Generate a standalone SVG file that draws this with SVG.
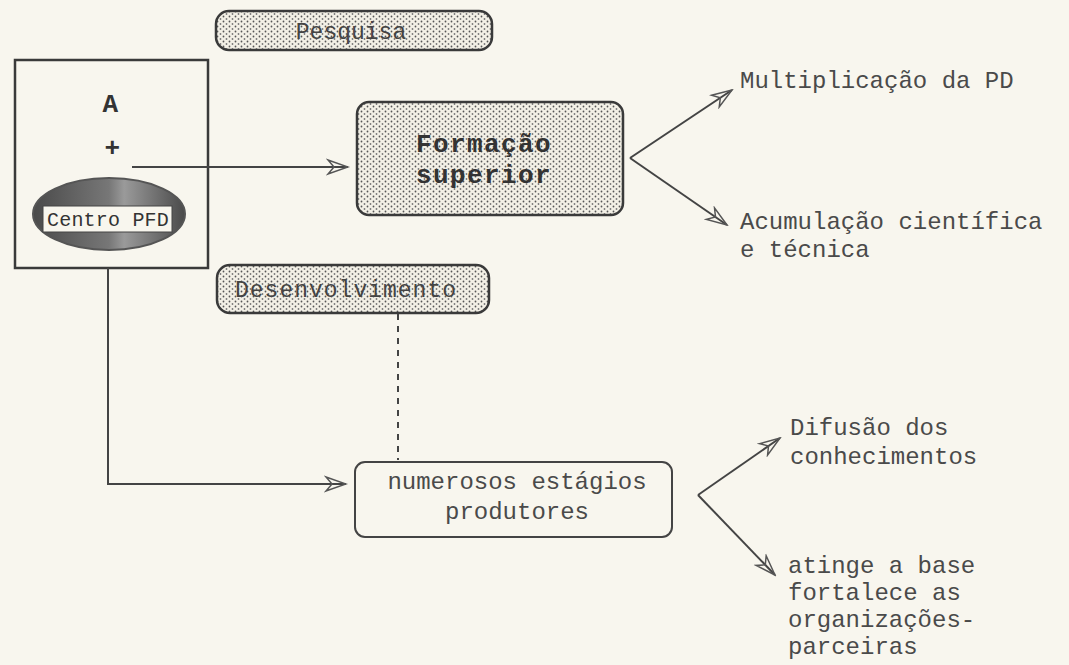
<svg xmlns="http://www.w3.org/2000/svg" width="1069" height="665" viewBox="0 0 1069 665">
<defs>
<pattern id="dots" width="6" height="5" patternUnits="userSpaceOnUse">
<rect width="6" height="5" fill="#f3f0e6"/>
<circle cx="1.5" cy="1.5" r="0.9" fill="#555"/>
<circle cx="4.5" cy="4" r="0.9" fill="#777"/>
</pattern>
<linearGradient id="ell" x1="0" y1="0" x2="1" y2="0">
<stop offset="0" stop-color="#4a4a4a"/>
<stop offset="0.5" stop-color="#777"/>
<stop offset="0.6" stop-color="#9a9a9a"/>
<stop offset="1" stop-color="#4a4a4a"/>
</linearGradient>
<marker id="arr" markerWidth="24" markerHeight="18" refX="22" refY="9" orient="auto" markerUnits="userSpaceOnUse">
<path d="M2,2 L22,9 L2,16 L8,9 Z" fill="none" stroke="#555" stroke-width="1.5"/>
</marker>
<style>
.t{font-family:"Liberation Mono",monospace;font-size:24px;fill:#4a4a4a}
.b{font-family:"Liberation Mono",monospace;font-size:26px;fill:#333;font-weight:bold;letter-spacing:1.4px}
.n{font-family:"Liberation Mono",monospace;font-size:23px;fill:#444}
.ln{fill:none;stroke:#444;stroke-width:2}
.bx{stroke:#3a3a3a;stroke-width:2.5}
</style>
</defs>
<rect width="1069" height="665" fill="#f8f6ee"/>
<g id="pesquisa">
<rect class="bx" x="216" y="11" width="276" height="39" rx="13" fill="url(#dots)"/>
<text class="n" x="351" y="39" text-anchor="middle">Pesquisa</text>
</g>
<g id="origem">
<rect class="bx" x="15" y="60" width="193" height="208" fill="none"/>
<text class="b" x="111" y="112" text-anchor="middle" font-size="28">A</text>
<text class="b" x="113" y="156" text-anchor="middle" font-size="20">+</text>
<ellipse cx="109" cy="214" rx="76" ry="36" fill="url(#ell)" stroke="#555" stroke-width="2"/>
<rect x="43" y="206" width="129" height="26" fill="#f8f6ee" stroke="#444" stroke-width="1"/>
<text x="108" y="226" text-anchor="middle" font-family="Liberation Mono, monospace" font-size="20" fill="#333" letter-spacing="0.2">Centro PFD</text>
</g>
<g id="formacao">
<rect class="bx" x="357" y="102" width="266" height="113" rx="12" fill="url(#dots)"/>
<text class="b" x="484" y="152" text-anchor="middle">Formação</text>
<text class="b" x="484" y="183" text-anchor="middle">superior</text>
</g>
<g id="desenvolvimento">
<rect class="bx" x="217" y="265" width="272" height="48" rx="13" fill="url(#dots)"/>
<text class="n" x="346" y="297" text-anchor="middle" letter-spacing="1">Desenvolvimento</text>
</g>
<g id="numerosos">
<rect x="355" y="462" width="317" height="75" rx="10" fill="none" stroke="#444" stroke-width="2"/>
<text class="t" x="517" y="489" text-anchor="middle">numerosos estágios</text>
<text class="t" x="517" y="519" text-anchor="middle">produtores</text>
</g>
<g id="multiplicacao"><text class="t" x="740" y="88">Multiplicação da PD</text></g>
<g id="acumulacao"><text class="t" x="740" y="229">Acumulação científica</text><text class="t" x="740" y="257">e técnica</text></g>
<g id="difusao"><text class="t" x="790" y="435">Difusão dos</text><text class="t" x="790" y="464">conhecimentos</text></g>
<g id="atinge"><text class="t" x="788" y="573">atinge a base</text><text class="t" x="788" y="600">fortalece as</text><text class="t" x="788" y="627">organizações-</text><text class="t" x="788" y="654">parceiras</text></g>
<g id="connectors">
<line class="ln" x1="132" y1="167" x2="348" y2="167" marker-end="url(#arr)"/>
<polyline class="ln" points="108,268 108,484 346,484" marker-end="url(#arr)"/>
<line x1="398" y1="314" x2="398" y2="460" stroke="#444" stroke-width="2" stroke-dasharray="6,6"/>
<line class="ln" x1="630" y1="158" x2="732" y2="90" marker-end="url(#arr)"/>
<line class="ln" x1="630" y1="158" x2="727" y2="225" marker-end="url(#arr)"/>
<line class="ln" x1="698" y1="495" x2="780" y2="438" marker-end="url(#arr)"/>
<line class="ln" x1="698" y1="495" x2="775" y2="575" marker-end="url(#arr)"/>
</g>
</svg>
